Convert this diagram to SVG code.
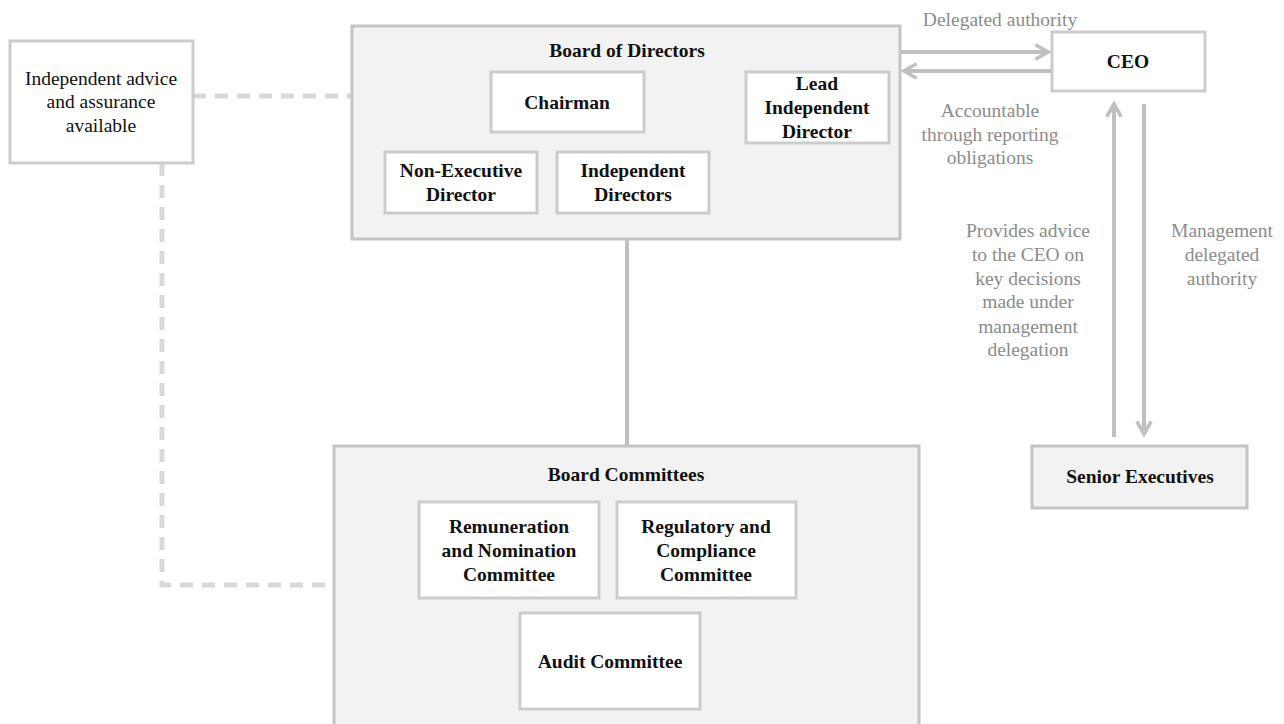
<svg xmlns="http://www.w3.org/2000/svg" width="1284" height="724" viewBox="0 0 1284 724">
<defs>
<style>
.box{fill:#ffffff;stroke:#cccccc;stroke-width:3}
.cont{fill:#f2f2f2;stroke:#c4c4c4;stroke-width:3}
text{font-size:19.5px;text-anchor:middle}
.t{font-weight:bold;fill:#111}
.n{fill:#111}
.lbl{fill:#8c8c8c}
.dash{fill:none;stroke:#d9d9d9;stroke-width:5;stroke-dasharray:13 9}
.solid{fill:none;stroke:#c0c0c0;stroke-width:4}
</style>
<marker id="ah" viewBox="0 0 10 10" refX="8" refY="5" markerWidth="4.5" markerHeight="4.5" orient="auto" markerUnits="strokeWidth">
<path d="M1,1 L8,5 L1,9" fill="none" stroke="#c0c0c0" stroke-width="2"/>
</marker>
</defs>
<rect width="1284" height="724" fill="#ffffff"/>

<g id="connectors">
<path class="dash" d="M193,96 H353"/>
<path class="dash" d="M162,163 V585 H328"/>
<path class="dash" d="M644,104 H746"/>
<path class="solid" d="M627,239 V446"/>
<path class="solid" d="M900,52 H1048" marker-end="url(#ah)"/>
<path class="solid" d="M1052,71 H904" marker-end="url(#ah)"/>
<path class="solid" d="M1114,437 V104" marker-end="url(#ah)"/>
<path class="solid" d="M1144,104 V434" marker-end="url(#ah)"/>
</g>

<g font-family="Liberation Serif, DejaVu Serif, serif">
<g id="labels">
<text class="lbl" x="1000" y="26">Delegated authority</text>
<text class="lbl" x="990" y="117">Accountable</text>
<text class="lbl" x="990" y="141">through reporting</text>
<text class="lbl" x="990" y="164">obligations</text>
<text class="lbl" x="1028" y="237">Provides advice</text>
<text class="lbl" x="1028" y="261">to the CEO on</text>
<text class="lbl" x="1028" y="285">key decisions</text>
<text class="lbl" x="1028" y="308">made under</text>
<text class="lbl" x="1028" y="333">management</text>
<text class="lbl" x="1028" y="356">delegation</text>
<text class="lbl" x="1222" y="237">Management</text>
<text class="lbl" x="1222" y="261">delegated</text>
<text class="lbl" x="1222" y="285">authority</text>
</g>

<g id="independent-advice">
<rect class="box" x="10" y="41" width="183" height="122"/>
<text class="n" x="101" y="85">Independent advice</text>
<text class="n" x="101" y="108">and assurance</text>
<text class="n" x="101" y="132">available</text>
</g>

<g id="board-of-directors">
<rect class="cont" x="352" y="26" width="548" height="213"/>
<text class="t" x="627" y="57">Board of Directors</text>
</g>
<g id="chairman">
<rect class="box" x="491" y="72" width="153" height="60"/>
<text class="t" x="567" y="109">Chairman</text>
</g>
<g id="lead-independent-director">
<rect class="box" x="746" y="72" width="143" height="71"/>
<text class="t" x="817" y="90">Lead</text>
<text class="t" x="817" y="114">Independent</text>
<text class="t" x="817" y="138">Director</text>
</g>
<g id="non-executive-director">
<rect class="box" x="385" y="152" width="152" height="61"/>
<text class="t" x="461" y="177">Non-Executive</text>
<text class="t" x="461" y="201">Director</text>
</g>
<g id="independent-directors">
<rect class="box" x="557" y="152" width="152" height="61"/>
<text class="t" x="633" y="177">Independent</text>
<text class="t" x="633" y="201">Directors</text>
</g>

<g id="ceo">
<rect class="box" x="1052" y="32" width="153" height="59"/>
<text class="t" x="1128" y="68">CEO</text>
</g>

<g id="senior-executives">
<rect class="cont" x="1032" y="446" width="215" height="62"/>
<text class="t" x="1140" y="483">Senior Executives</text>
</g>

<g id="board-committees">
<rect class="cont" x="334" y="446" width="585" height="290"/>
<text class="t" x="626" y="481">Board Committees</text>
</g>
<g id="remuneration-nomination">
<rect class="box" x="419" y="502" width="180" height="96"/>
<text class="t" x="509" y="533">Remuneration</text>
<text class="t" x="509" y="557">and Nomination</text>
<text class="t" x="509" y="581">Committee</text>
</g>
<g id="regulatory-compliance">
<rect class="box" x="617" y="502" width="179" height="96"/>
<text class="t" x="706" y="533">Regulatory and</text>
<text class="t" x="706" y="557">Compliance</text>
<text class="t" x="706" y="581">Committee</text>
</g>
<g id="audit-committee">
<rect class="box" x="520" y="613" width="180" height="96"/>
<text class="t" x="610" y="668">Audit Committee</text>
</g>
</g>
</svg>
